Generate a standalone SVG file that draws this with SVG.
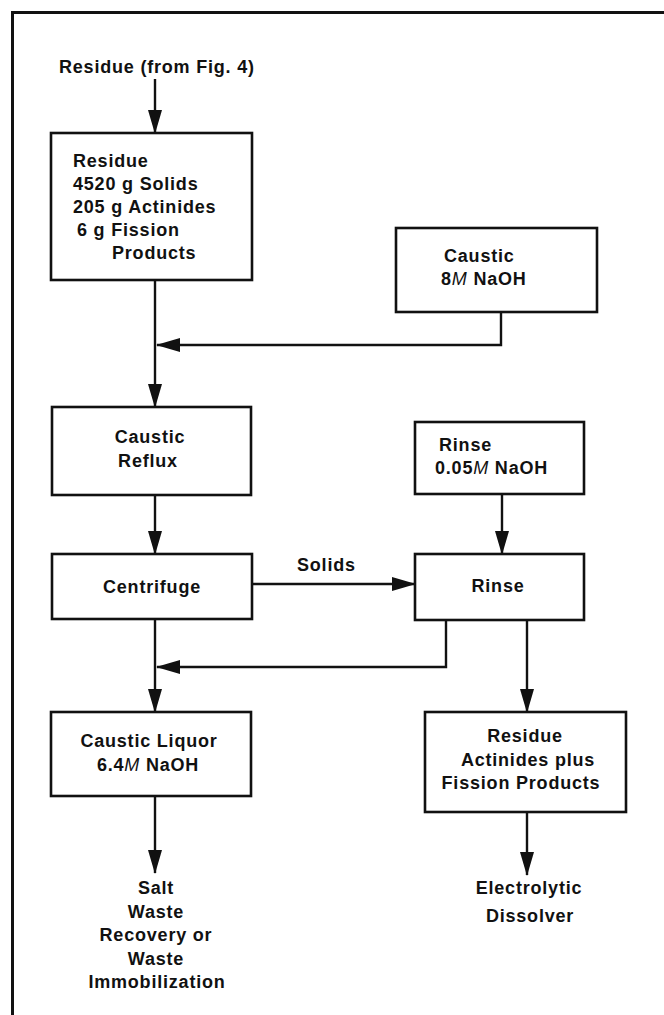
<svg xmlns="http://www.w3.org/2000/svg" width="664" height="1015" viewBox="0 0 664 1015">
<defs>
<style>
.box{fill:#fff;stroke:#111;stroke-width:2.6}
.ln{fill:none;stroke:#111;stroke-width:2.4}
text{font-family:"Liberation Sans",Arial,sans-serif;font-size:18px;font-weight:bold;fill:#111;letter-spacing:0.8px}
.c{text-anchor:middle}
.it{font-style:italic;font-weight:normal}
</style>
<marker id="ah" viewBox="0 0 24 14" refX="23" refY="7" markerWidth="24" markerHeight="14" markerUnits="userSpaceOnUse" orient="auto">
<path d="M0,0 L24,7 L0,14 z" fill="#111"/>
</marker>
</defs>
<rect width="664" height="1015" fill="#fff"/>
<g id="frame">
<path d="M12.5,1015 V12.5 H664" fill="none" stroke="#111" stroke-width="3"/>
</g>
<g id="connectors">
<path class="ln" d="M155,79 V133" marker-end="url(#ah)"/>
<path class="ln" d="M155,280 V407" marker-end="url(#ah)"/>
<path class="ln" d="M501,312 V345 H157" marker-end="url(#ah)"/>
<path class="ln" d="M155,495 V554" marker-end="url(#ah)"/>
<path class="ln" d="M252,584 H415" marker-end="url(#ah)"/>
<path class="ln" d="M502,494 V554" marker-end="url(#ah)"/>
<path class="ln" d="M155,619 V712" marker-end="url(#ah)"/>
<path class="ln" d="M446,620 V667 H157" marker-end="url(#ah)"/>
<path class="ln" d="M527,620 V712" marker-end="url(#ah)"/>
<path class="ln" d="M155,796 V873" marker-end="url(#ah)"/>
<path class="ln" d="M527,812 V875" marker-end="url(#ah)"/>
<text x="297" y="571">Solids</text>
</g>
<g id="input">
<text x="59" y="73">Residue (from Fig. 4)</text>
</g>
<g id="residue1">
<rect class="box" x="51" y="133" width="201" height="147"/>
<text x="73" y="167">Residue</text>
<text x="73" y="190">4520 g Solids</text>
<text x="73" y="213">205 g Actinides</text>
<text x="77" y="236">6 g Fission</text>
<text x="112" y="259">Products</text>
</g>
<g id="caustic">
<rect class="box" x="396" y="228" width="201" height="84"/>
<text x="444" y="262">Caustic</text>
<text x="441" y="285">8<tspan class="it">M</tspan> NaOH</text>
</g>
<g id="reflux">
<rect class="box" x="52" y="407" width="199" height="88"/>
<text class="c" x="150" y="443">Caustic</text>
<text class="c" x="148" y="467">Reflux</text>
</g>
<g id="rinse-solution">
<rect class="box" x="415" y="422" width="169" height="72"/>
<text x="439" y="451">Rinse</text>
<text x="435" y="474">0.05<tspan class="it">M</tspan> NaOH</text>
</g>
<g id="centrifuge">
<rect class="box" x="52" y="554" width="200" height="65"/>
<text class="c" x="152" y="593">Centrifuge</text>
</g>
<g id="rinse">
<rect class="box" x="415" y="554" width="169" height="66"/>
<text class="c" x="498" y="592">Rinse</text>
</g>
<g id="liquor">
<rect class="box" x="51" y="712" width="200" height="84"/>
<text class="c" x="149" y="747">Caustic Liquor</text>
<text class="c" x="148" y="771">6.4<tspan class="it">M</tspan> NaOH</text>
</g>
<g id="residue2">
<rect class="box" x="425" y="712" width="201" height="100"/>
<text class="c" x="525" y="742">Residue</text>
<text class="c" x="528" y="766">Actinides plus</text>
<text class="c" x="521" y="789">Fission Products</text>
</g>
<g id="salt-waste">
<text class="c" x="156" y="894">Salt</text>
<text class="c" x="156" y="918">Waste</text>
<text class="c" x="156" y="941">Recovery or</text>
<text class="c" x="156" y="965">Waste</text>
<text class="c" x="157" y="988">Immobilization</text>
</g>
<g id="dissolver">
<text class="c" x="529" y="894">Electrolytic</text>
<text class="c" x="530" y="922">Dissolver</text>
</g>
</svg>
